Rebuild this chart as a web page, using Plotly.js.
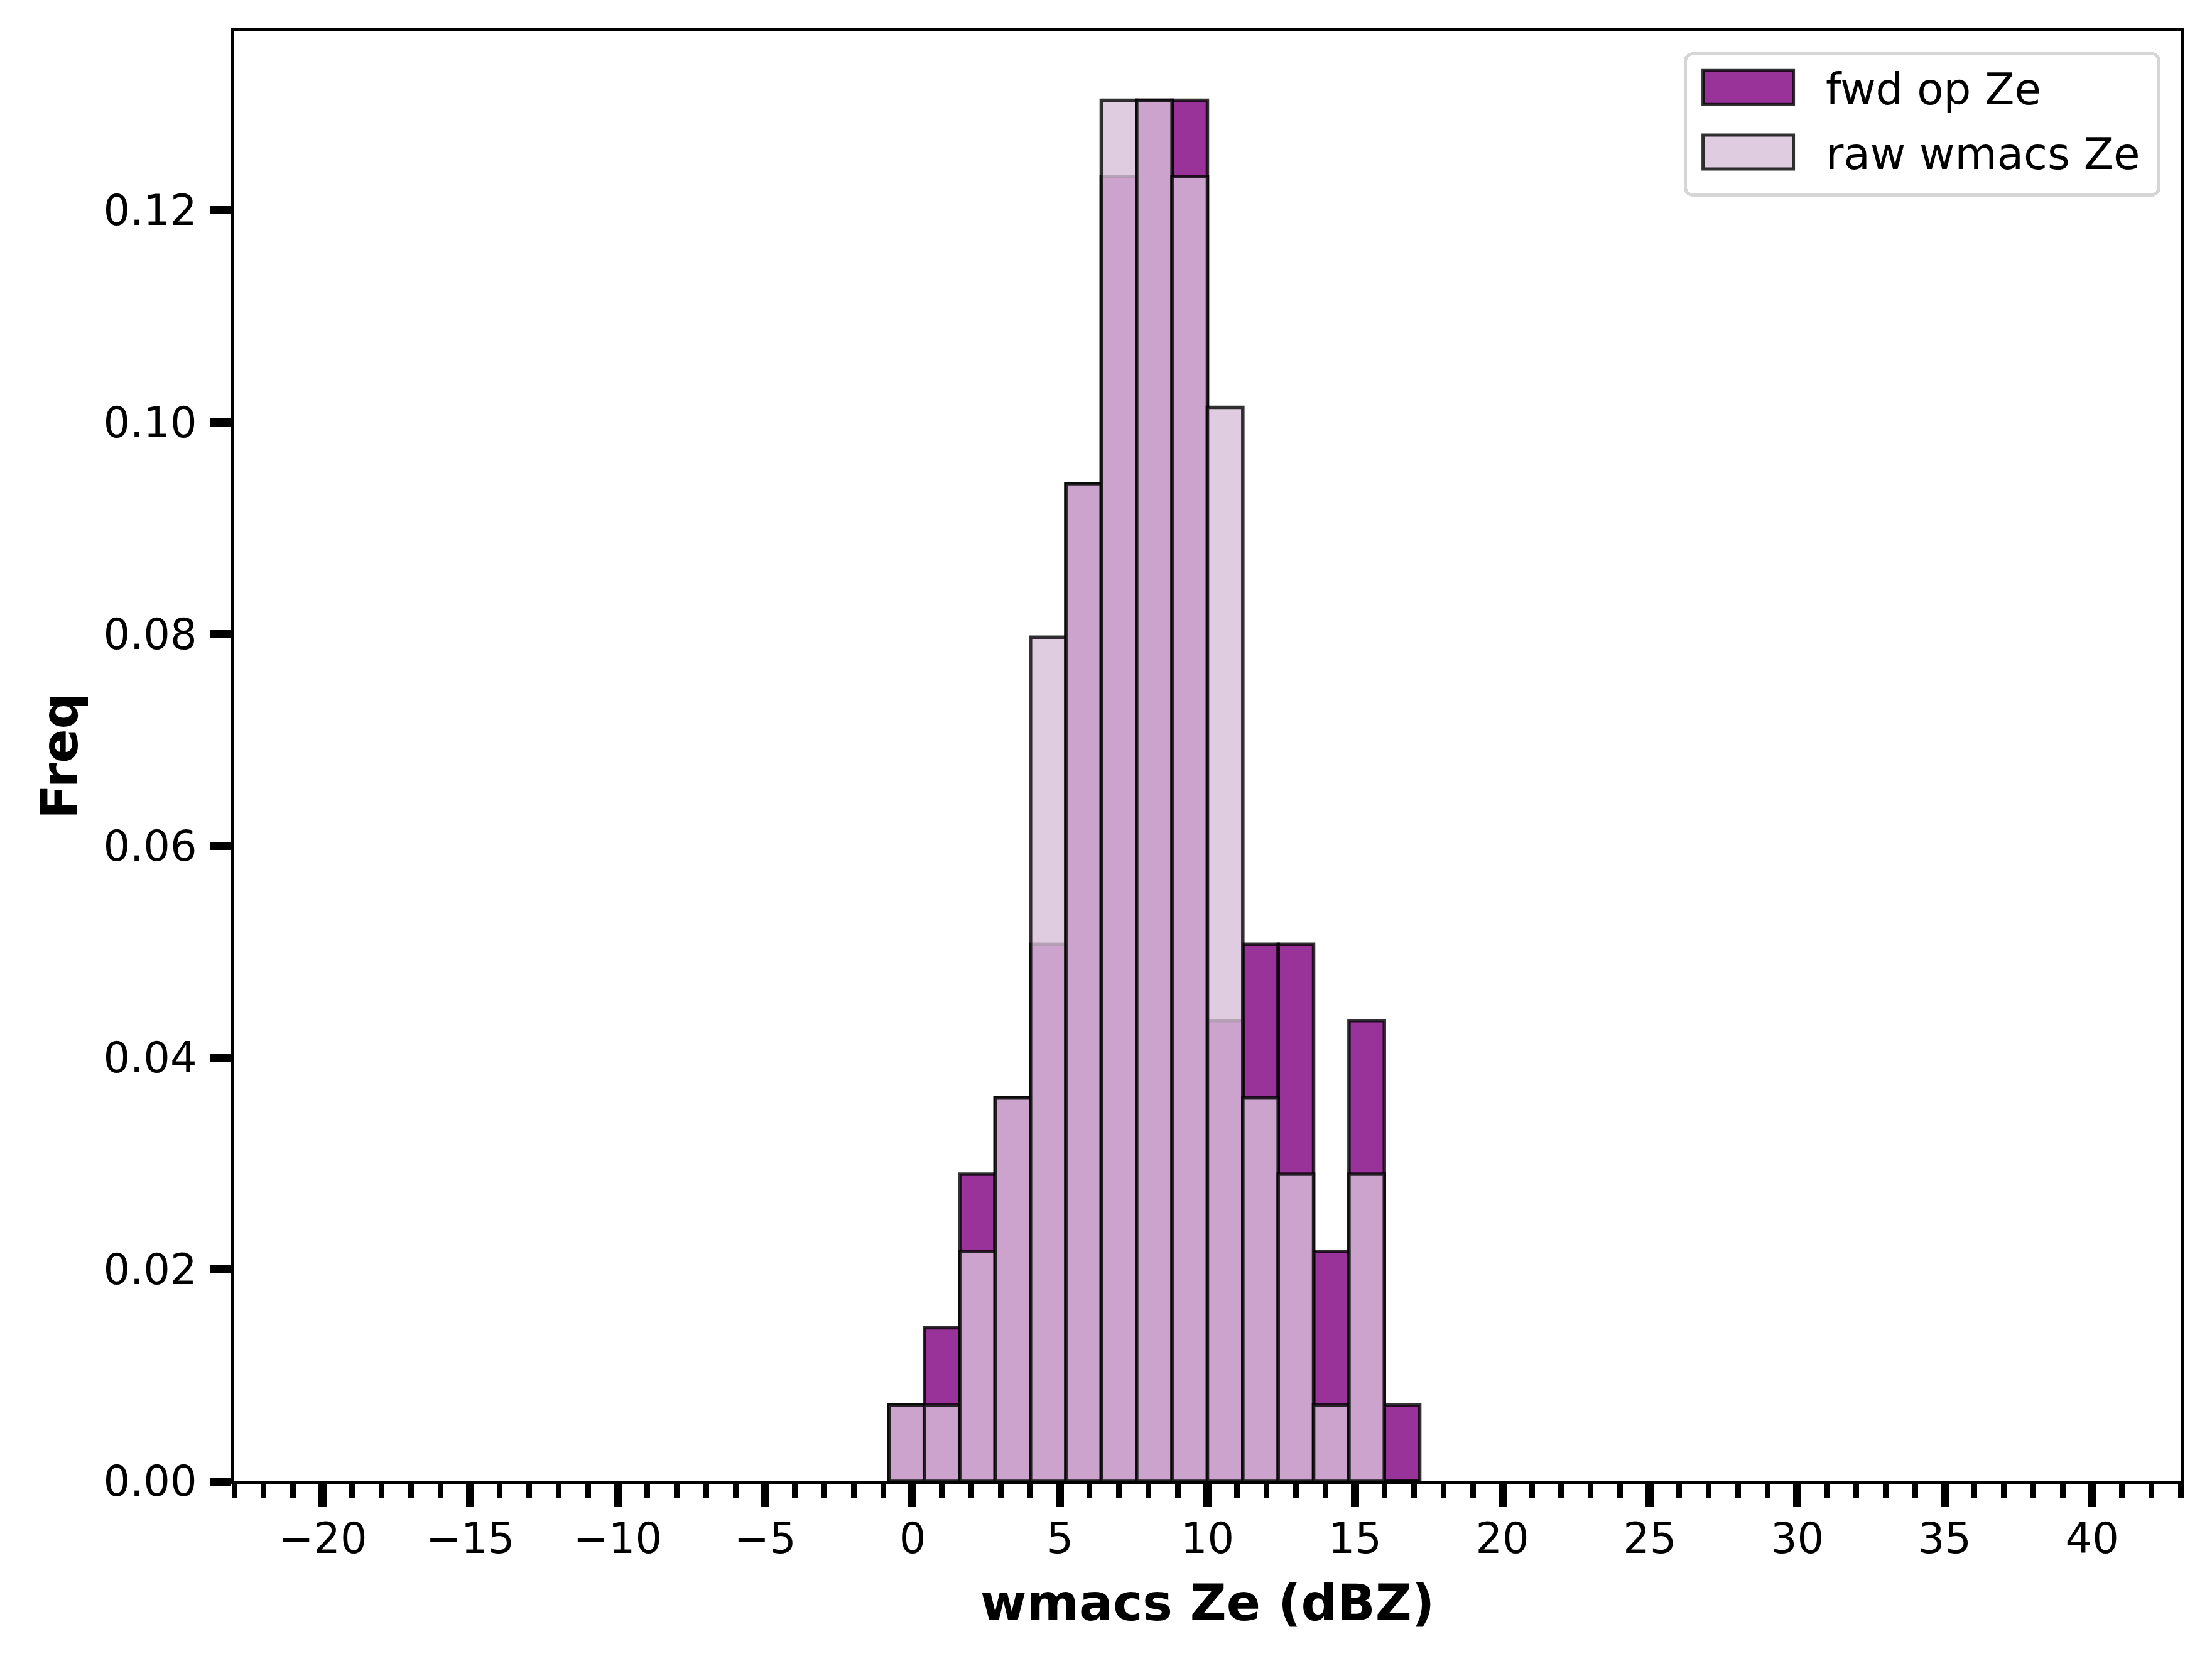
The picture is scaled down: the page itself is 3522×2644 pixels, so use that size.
<!DOCTYPE html>
<html>
<head>
<meta charset="utf-8">
<script src="https://cdn.plot.ly/plotly-3.0.1.min.js"></script>
<style>
  body { margin: 0; background: #fff; }
  #plot { width: 3522px; height: 2644px; }
</style>
</head>
<body>
<div id="plot"></div>
<script>
// histogram bins (dBZ), left edge of first bin is -0.8
const binCenters = [-0.2, 1.0, 2.2, 3.4, 4.6, 5.8, 7.0, 8.2, 9.4, 10.6, 11.8, 13.0, 14.2, 15.4, 16.6];
const binWidth = 1.2;

// frequency per bin
const fwdFreq = [0.0072, 0.0145, 0.0290, 0.0362, 0.0507, 0.0942, 0.1232, 0.1304, 0.1304, 0.0435, 0.0507, 0.0507, 0.0217, 0.0435, 0.0072];
const rawFreq = [0.0072, 0.0072, 0.0217, 0.0362, 0.0797, 0.0942, 0.1304, 0.1304, 0.1232, 0.1014, 0.0362, 0.0290, 0.0072, 0.0290, 0.0000];

const seriesNames = ['fwd op Ze', 'raw wmacs Ze'];

const xTickVals = [-20, -15, -10, -5, 0, 5, 10, 15, 20, 25, 30, 35, 40];
const yTickVals = [0, 0.02, 0.04, 0.06, 0.08, 0.10, 0.12];

const FONT = 'DejaVu Sans, Liberation Sans, sans-serif';
const edge = { color: 'rgba(0,0,0,0.8)', width: 5.5 };

const traces = [
    {
        type: 'bar',
        x: binCenters,
        y: fwdFreq,
        width: binWidth,
        name: seriesNames[0],
        legendgroup: 'fwd',
        marker: { color: 'rgba(128,0,128,0.8)', line: edge }
    },
    {
        type: 'bar',
        x: binCenters,
        y: rawFreq,
        width: binWidth,
        name: seriesNames[1],
        legendgroup: 'raw',
        marker: { color: 'rgba(216,191,216,0.8)', line: edge }
    }
];

const layout = {
    width: 3522,
    height: 2644,
    autosize: false,
    paper_bgcolor: '#fff',
    plot_bgcolor: '#fff',
    barmode: 'overlay',
    bargap: 0,
    margin: { l: 373, r: 50, t: 49, b: 286, pad: 0 },
    font: { family: FONT, size: 67, color: '#000' },
    xaxis: {
        range: [-23, 43],
        tickmode: 'array',
        tickvals: xTickVals,
        ticks: 'outside',
        ticklen: 36,
        tickwidth: 13,
        tickcolor: '#000',
        ticklabelstandoff: -7,
        minor: { dtick: 1, tick0: 0, ticks: 'outside', ticklen: 22, tickwidth: 9, tickcolor: '#000', showgrid: false },
        showline: true, mirror: true, linecolor: '#000', linewidth: 5,
        showgrid: false, zeroline: false,
        tickfont: { family: FONT, size: 67 },
        title: { text: 'wmacs Ze (dBZ)', font: { family: FONT, size: 80, weight: 'bold' }, standoff: 37 }
    },
    yaxis: {
        range: [0, 0.13696],
        tickmode: 'array',
        tickvals: yTickVals,
        tickformat: '.2f',
        ticks: 'outside',
        ticklen: 34,
        tickwidth: 13,
        tickcolor: '#000',
        ticklabelstandoff: 7,
        showline: true, mirror: true, linecolor: '#000', linewidth: 5,
        showgrid: false, zeroline: false,
        tickfont: { family: FONT, size: 67 },
        title: { text: 'Freq', font: { family: FONT, size: 80, weight: 'bold' }, standoff: 16 }
    },
    showlegend: true,
    legend: {
        x: 0.9897, xanchor: 'right',
        y: 0.9853, yanchor: 'top',
        bgcolor: '#fff',
        bordercolor: '#d6d6d6',
        borderwidth: 5,
        itemwidth: 211,
        tracegroupgap: 10,
        traceorder: 'grouped',
        font: { family: FONT, size: 69, color: '#000' }
    }
};

Plotly.newPlot('plot', traces, layout, { displayModeBar: false, staticPlot: true }).then(function () {
    // matplotlib-style wide legend patches, shifted left of the default centre
    document.querySelectorAll('#plot .legend .legendpoints path').forEach(function (p) {
        p.setAttribute('d', 'M59,27H-85V-27H59Z');
    });
    // give the legend frame a bit more room on the right and bottom, like matplotlib
    const extraW = 22, extraH = 14;
    const leg = document.querySelector('#plot g.legend');
    const bg = leg && leg.querySelector('rect.bg');
    if (leg && bg) {
        bg.setAttribute('width', parseFloat(bg.getAttribute('width')) + extraW);
        bg.setAttribute('height', parseFloat(bg.getAttribute('height')) + extraH);
        bg.setAttribute('rx', 12);  // rounded frame
        bg.setAttribute('ry', 12);
        const m = /translate\(([-\d.]+)[ ,]+([-\d.]+)\)/.exec(leg.getAttribute('transform'));
        if (m) leg.setAttribute('transform', 'translate(' + (parseFloat(m[1]) - extraW) + ',' + m[2] + ')');
    }
});
</script>
</body>
</html>
